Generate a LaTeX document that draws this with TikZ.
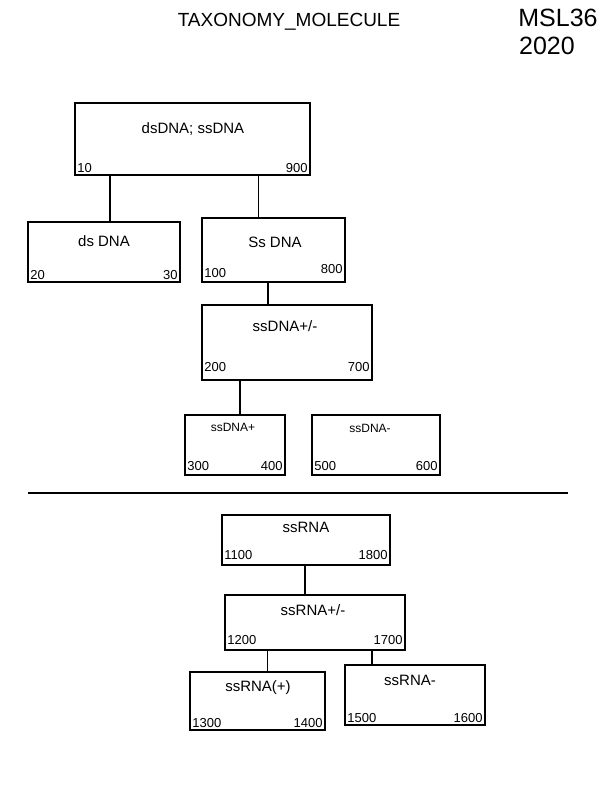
\documentclass[tikz,border=0pt]{standalone}
\usepackage{fontspec}
\setmainfont{Liberation Sans}
\usepackage{tikz}

\begin{document}
\begin{tikzpicture}[x=1pt, y=-1pt,
    box/.style={draw, line width=1.5pt, inner sep=0pt},
    big/.style={font=\fontsize{15}{17}\selectfont},
    mid/.style={font=\fontsize{15}{17}\selectfont},
    small/.style={font=\fontsize{12}{14}\selectfont},
    num/.style={font=\fontsize{13}{15}\selectfont, inner sep=3pt},
    link/.style={line width=1.5pt}]
    \useasboundingbox (0,0) rectangle (612,792);
    % Title
    \node at (289,22) (title) {\fontsize{19}{21}\selectfont TAXONOMY\_MOLECULE};
    \node at (558,18) (msl) {\fontsize{25}{28}\selectfont MSL36};
    \node at (547,46) (year) {\fontsize{25}{28}\selectfont 2020};
    % DNA boxes
    \node [box, minimum width=235, minimum height=72] at (192.5,139) (top) {};
    \node [box, minimum width=152, minimum height=60] at (104,252) (ds) {};
    \node [box, minimum width=143, minimum height=64] at (273.5,250) (ss) {};
    \node [box, minimum width=170, minimum height=75] at (287,342.5) (sspm) {};
    \node [box, minimum width=100, minimum height=60] at (235,445) (ssp) {};
    \node [box, minimum width=128, minimum height=60] at (376,445) (ssm) {};
    \node [big] at (193,129) (topL) {dsDNA; ssDNA};
    \node [mid] at (104,241) (dsL) {ds DNA};
    \node [mid] at (275,242) (ssL) {Ss DNA};
    \node [mid] at (285,326) (sspmL) {ssDNA+/-};
    \node [small] at (233,427) (sspL) {ssDNA+};
    \node [small] at (370,428) (ssmL) {ssDNA-};
    \node [num, anchor=south west] at (top.south west) (top1) {10};
    \node [num, anchor=south east] at (top.south east) (top2) {900};
    \node [num, anchor=south west] at (ds.south west) (ds1) {20};
    \node [num, anchor=south east] at (ds.south east) (ds2) {30};
    \node [num, anchor=south west] at ([yshift=2pt]ss.south west) (ss1) {100};
    \node [num, anchor=south east] at ([yshift=6pt]ss.south east) (ss2) {800};
    \node [num, anchor=south west] at ([yshift=6pt]sspm.south west) (sspm1) {200};
    \node [num, anchor=south east] at ([yshift=6pt]sspm.south east) (sspm2) {700};
    \node [num, anchor=south west] at ([yshift=2pt]ssp.south west) (ssp1) {300};
    \node [num, anchor=south east] at ([yshift=2pt]ssp.south east) (ssp2) {400};
    \node [num, anchor=south west] at ([yshift=2pt]ssm.south west) (ssm1) {500};
    \node [num, anchor=south east] at ([yshift=2pt]ssm.south east) (ssm2) {600};
    \draw [link] ([xshift=6pt]ds.north) -- ([xshift=6pt]ds.north |- top.south);
    \draw [link] ([xshift=-15pt]ss.north) -- ([xshift=-15pt]ss.north |- top.south);
    \draw [link] ([xshift=-19pt]sspm.north) -- ([xshift=-19pt]sspm.north |- ss.south);
    \draw [link] ([xshift=5pt]ssp.north) -- ([xshift=5pt]ssp.north |- sspm.south);
    % Divider
    \coordinate (divL) at (28,493);
    \coordinate (divR) at (568,493);
    \draw [line width=1.5pt] (divL) -- (divR);
    % RNA boxes
    \node [box, minimum width=168, minimum height=50] at (306,540) (rna) {};
    \node [box, minimum width=180, minimum height=55] at (315,622.5) (rnapm) {};
    \node [box, minimum width=135, minimum height=58] at (257.5,701) (rnap) {};
    \node [box, minimum width=140, minimum height=60] at (415,695) (rnam) {};
    \node [mid] at (306,527) (rnaL) {ssRNA};
    \node [mid] at (313,610) (rnapmL) {ssRNA+/-};
    \node [mid] at (258,688) (rnapL) {ssRNA(+)};
    \node [mid] at (410,680) (rnamL) {ssRNA-};
    \node [num, anchor=south west] at ([yshift=3pt]rna.south west) (rna1) {1100};
    \node [num, anchor=south east] at ([yshift=3pt]rna.south east) (rna2) {1800};
    \node [num, anchor=south west] at ([yshift=3pt]rnapm.south west) (rnapm1) {1200};
    \node [num, anchor=south east] at ([yshift=3pt]rnapm.south east) (rnapm2) {1700};
    \node [num, anchor=south west] at (rnap.south west) (rnap1) {1300};
    \node [num, anchor=south east] at (rnap.south east) (rnap2) {1400};
    \node [num, anchor=south west] at (rnam.south west) (rnam1) {1500};
    \node [num, anchor=south east] at (rnam.south east) (rnam2) {1600};
    \draw [link] ([xshift=-10pt]rnapm.north) -- ([xshift=-10pt]rnapm.north |- rna.south);
    \draw [link] ([xshift=10pt]rnap.north) -- ([xshift=10pt]rnap.north |- rnapm.south);
    \draw [link] ([xshift=-43pt]rnam.north) -- ([xshift=-43pt]rnam.north |- rnapm.south);
\end{tikzpicture}
\end{document}
